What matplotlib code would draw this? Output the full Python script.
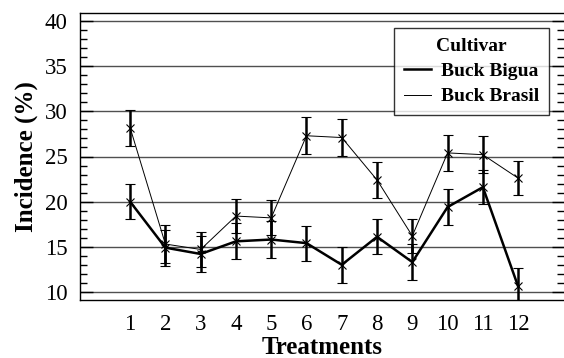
import numpy as np
import matplotlib
matplotlib.use("Agg")
import matplotlib.pyplot as plt
from matplotlib.ticker import MultipleLocator
from matplotlib.lines import Line2D

# treatments 1..12
treatments = np.arange(1, 13)

# Buck Bigua (thick line)
bigua = [20.0, 14.9, 14.2, 15.6, 15.8, 15.4, 13.0, 16.1, 13.3, 19.4, 21.6, 10.6]
bigua_err = [1.95, 2.0, 1.95, 2.0, 2.0, 1.95, 2.0, 1.95, 2.0, 1.95, 1.9, 2.0]

# Buck Brasil (thin line)
brasil = [28.2, 15.3, 14.7, 18.4, 18.2, 27.3, 27.1, 22.4, 16.2, 25.4, 25.2, 22.6]
brasil_err = [2.0, 2.1, 1.95, 1.9, 1.95, 2.05, 2.0, 1.95, 1.85, 2.0, 2.05, 1.9]

plt.rcParams['font.family'] = ['Liberation Serif', 'DejaVu Serif']

fig = plt.figure(figsize=(5.64, 3.58), dpi=100)
ax = fig.add_axes([80/564, 58/358, 484/564, 287/358])

# horizontal grid lines
for yv in range(10, 41, 5):
    ax.axhline(yv, color='#505050', lw=1.0, zorder=1)

ax.errorbar(treatments, bigua, yerr=bigua_err, color='black', lw=1.8,
            elinewidth=1.8, capsize=3.5, capthick=1.8, marker='x', ms=6,
            mew=0.8, label='Buck Bigua', zorder=3)
ax.errorbar(treatments, brasil, yerr=brasil_err, color='black', lw=0.7,
            elinewidth=1.8, capsize=3.5, capthick=1.8, marker='x', ms=6,
            mew=0.8, label='Buck Brasil', zorder=3)

ax.set_xlim(-0.42, 13.3)
ax.set_ylim(9.1, 40.9)
ax.set_xticks(treatments)
ax.yaxis.set_major_locator(MultipleLocator(5))
ax.yaxis.set_minor_locator(MultipleLocator(1))

ax.spines['right'].set_visible(False)
for s in ['top', 'bottom', 'left']:
    ax.spines[s].set_linewidth(1.0)

ax.tick_params(axis='y', which='major', direction='in', length=9, width=1,
               right=True, labelsize=16.5, pad=9)
ax.tick_params(axis='y', which='minor', direction='in', length=5, width=1,
               right=True)
ax.tick_params(axis='x', which='both', length=0, labelsize=16.5, pad=10)

ax.set_xlabel('Treatments', fontsize=18, fontweight='bold', labelpad=1)
ax.set_ylabel('Incidence (%)', fontsize=18, fontweight='bold', labelpad=5)

handles = [Line2D([], [], color='black', lw=1.8),
           Line2D([], [], color='black', lw=0.7)]
leg = ax.legend(handles, ['Buck Bigua', 'Buck Brasil'], title='Cultivar',
                loc='upper right', bbox_to_anchor=(0.969, 0.948),
                prop={'weight': 'bold', 'size': 14},
                title_fontproperties={'weight': 'bold', 'size': 14},
                frameon=True, fancybox=False, edgecolor='black',
                handlelength=1.4, handletextpad=0.5, borderpad=0.5,
                labelspacing=0.4, borderaxespad=0)
leg.get_frame().set_linewidth(1.0)
leg.set_zorder(5)

fig.savefig('out.png', dpi=100)
